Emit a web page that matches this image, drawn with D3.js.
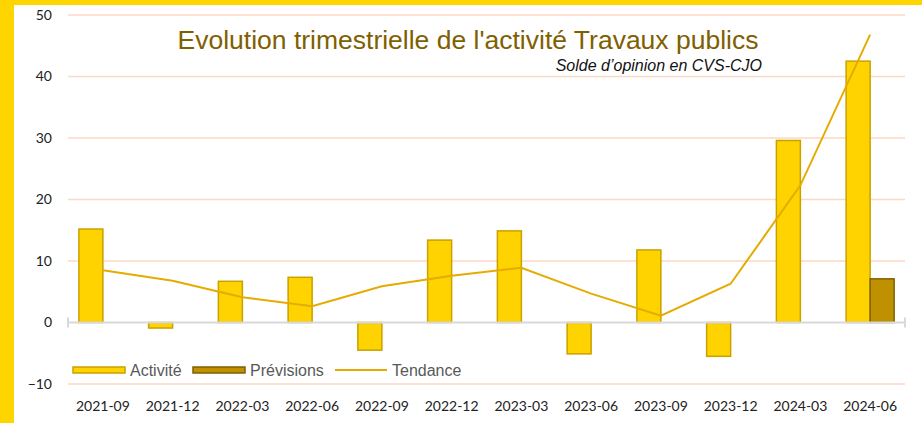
<!DOCTYPE html>
<html>
<head>
<meta charset="utf-8">
<script src="https://cdn.jsdelivr.net/npm/d3@7"></script>
<style>
  html, body { margin: 0; padding: 0; background: #fff; }
  svg { display: block; }
</style>
</head>
<body>
<script>
// Quarterly activity balance for public works
const quarters = ["2021-09","2021-12","2022-03","2022-06","2022-09","2022-12",
                  "2023-03","2023-06","2023-09","2023-12","2024-03","2024-06"];
const activite = [15.2, -0.9, 6.7, 7.35, -4.5, 13.4, 14.9, -5.1, 11.8, -5.5, 29.6, 42.5];
const previsions = [null, null, null, null, null, null, null, null, null, null, null, 7.1];
const tendance = [8.5, 6.8, 4.1, 2.65, 5.9, 7.6, 8.9, 4.7, 1.1, 6.3, 22.3, 46.8];
const yTicks = [-10, 0, 10, 20, 30, 40, 50];

const titleText = "Evolution trimestrielle de l'activité Travaux publics";
const subtitleText = "Solde d’opinion en CVS-CJO";

const W = 922, H = 423;
const svg = d3.select("body").append("svg").attr("width", W).attr("height", H);

// yellow frame on the left and top edges
svg.append("rect").attr("x", 0).attr("y", 0).attr("width", 14).attr("height", H).attr("fill", "#FFD500");
svg.append("rect").attr("x", 0).attr("y", 0).attr("width", W).attr("height", 5).attr("fill", "#FFD500");

const plot = { left: 68, right: 905, top: 15, bottom: 384 };
const x = d3.scaleBand().domain(quarters).range([plot.left, plot.right]);
const y = d3.scaleLinear().domain([-10, 50]).range([plot.bottom, plot.top]);

const tickFont = "Lato, 'Open Sans', sans-serif";

// horizontal gridlines
svg.append("g").selectAll("line").data(yTicks.filter(d => d !== 0)).join("line")
  .attr("x1", plot.left).attr("x2", plot.right)
  .attr("y1", d => y(d)).attr("y2", d => y(d))
  .attr("stroke", "#FCD9C4").attr("stroke-width", 1.3);

// y axis labels
const yAxis = d3.axisLeft(y).tickValues(yTicks).tickSize(0).tickPadding(16);
svg.append("g").attr("transform", `translate(${plot.left},0)`).call(yAxis)
  .call(g => g.select(".domain").remove())
  .call(g => g.selectAll("text").attr("font-family", tickFont).attr("font-size", 14).attr("fill", "#222"));

// x axis labels
const xAxis = d3.axisBottom(x).tickSize(0).tickPadding(17);
svg.append("g").attr("transform", `translate(0,${plot.bottom})`).call(xAxis)
  .call(g => g.select(".domain").remove())
  .call(g => g.selectAll("text").attr("font-family", tickFont).attr("font-size", 14).attr("fill", "#222"));

const barW = 24;
// Activité bars (left half of each band)
svg.append("g").selectAll("rect").data(quarters.map((q, i) => ({ q, v: activite[i] }))).join("rect")
  .attr("x", d => x(d.q) + x.bandwidth() / 2 - barW)
  .attr("width", barW)
  .attr("y", d => y(Math.max(0, d.v)))
  .attr("height", d => Math.abs(y(d.v) - y(0)))
  .attr("fill", "#FFD300").attr("stroke", "#C9A100").attr("stroke-width", 1.5);

// Prévisions bars (right half of each band)
svg.append("g").selectAll("rect")
  .data(quarters.map((q, i) => ({ q, v: previsions[i] })).filter(d => d.v !== null)).join("rect")
  .attr("x", d => x(d.q) + x.bandwidth() / 2)
  .attr("width", barW)
  .attr("y", d => y(Math.max(0, d.v)))
  .attr("height", d => Math.abs(y(d.v) - y(0)))
  .attr("fill", "#BF9000").attr("stroke", "#806000").attr("stroke-width", 1.5);

// zero axis with end ticks
const zg = svg.append("g").attr("stroke", "#D9D9D9").attr("stroke-width", 2);
zg.append("line").attr("x1", plot.left).attr("x2", plot.right).attr("y1", y(0)).attr("y2", y(0));
zg.append("line").attr("x1", plot.left).attr("x2", plot.left).attr("y1", y(0) - 5).attr("y2", y(0) + 5);
zg.append("line").attr("x1", plot.right).attr("x2", plot.right).attr("y1", y(0) - 5).attr("y2", y(0) + 5);

// Tendance line
const line = d3.line().x((d, i) => x(quarters[i]) + x.bandwidth() / 2).y(d => y(d));
svg.append("path").datum(tendance).attr("d", line)
  .attr("fill", "none").attr("stroke", "#E6AB00").attr("stroke-width", 2);

// title and subtitle
svg.append("text").attr("x", 468).attr("y", 49).attr("text-anchor", "middle")
  .attr("font-family", "'Liberation Sans', Arial, sans-serif").attr("font-size", 26.5)
  .attr("fill", "#7F6000").text(titleText);
svg.append("text").attr("x", 762).attr("y", 71).attr("text-anchor", "end")
  .attr("font-family", "'Liberation Sans', Arial, sans-serif").attr("font-size", 16)
  .attr("font-style", "italic").attr("fill", "#111").text(subtitleText);

// legend
const lg = svg.append("g").attr("font-family", "'Liberation Sans', Arial, sans-serif").attr("font-size", 16).attr("fill", "#595959");
lg.append("rect").attr("x", 73).attr("y", 367).attr("width", 52).attr("height", 6)
  .attr("fill", "#FFD300").attr("stroke", "#C9A100").attr("stroke-width", 1.5);
lg.append("text").attr("x", 130).attr("y", 376).text("Activité");
lg.append("rect").attr("x", 193).attr("y", 367).attr("width", 52).attr("height", 6)
  .attr("fill", "#BF9000").attr("stroke", "#806000").attr("stroke-width", 1.5);
lg.append("text").attr("x", 250).attr("y", 376).text("Prévisions");
lg.append("line").attr("x1", 335).attr("x2", 387).attr("y1", 370).attr("y2", 370)
  .attr("stroke", "#E6AB00").attr("stroke-width", 2);
lg.append("text").attr("x", 392).attr("y", 376).text("Tendance");
</script>
</body>
</html>
